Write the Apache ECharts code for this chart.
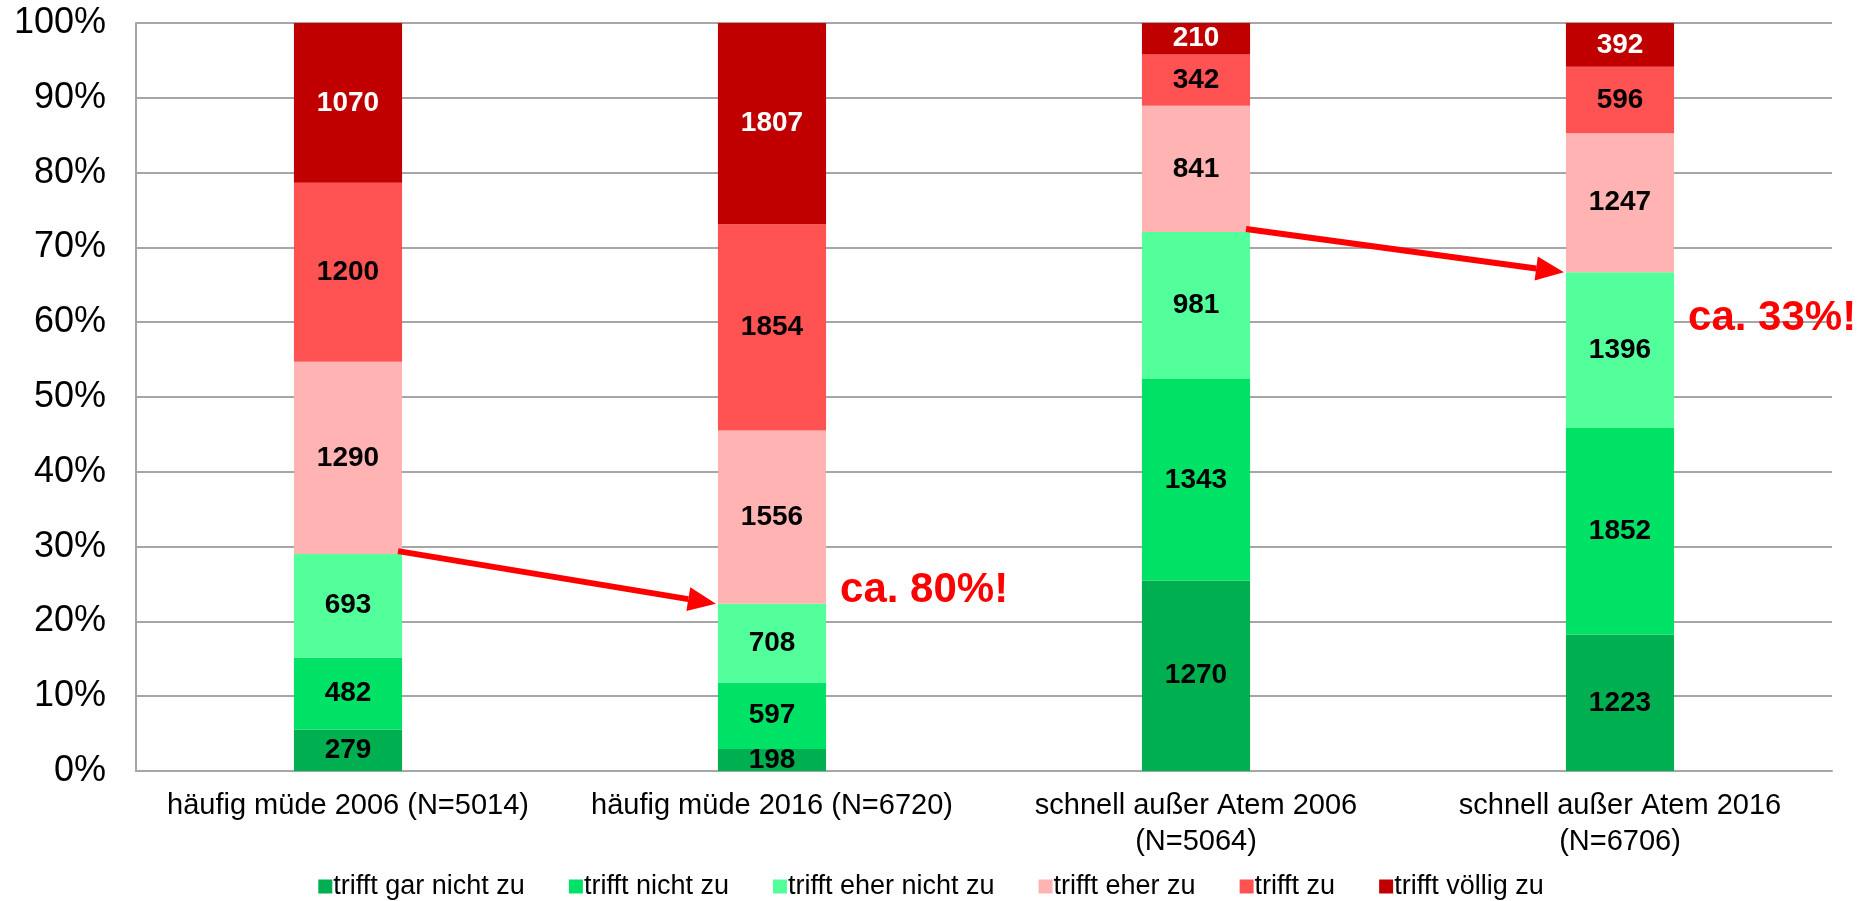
<!DOCTYPE html>
<html>
<head>
<meta charset="utf-8">
<script src="https://cdn.jsdelivr.net/npm/echarts@6/dist/echarts.min.js"></script>
<style>
    html, body { margin: 0; padding: 0; background: #fff; }
    #main { width: 1862px; height: 901px; }
</style>
</head>
<body>
<div id="main"></div>
<script>
// Kategorien und Antwortzahlen (je Stufe, je Balken)
const categories = [
    'häufig müde 2006 (N=5014)',
    'häufig müde 2016 (N=6720)',
    'schnell außer Atem 2006\n(N=5064)',
    'schnell außer Atem 2016\n(N=6706)'
]
const seriesNames = [
    'trifft gar nicht zu',
    'trifft nicht zu',
    'trifft eher nicht zu',
    'trifft eher zu',
    'trifft zu',
    'trifft völlig zu'
]
const garNicht = [279, 198, 1270, 1223]
const nicht = [482, 597, 1343, 1852]
const eherNicht = [693, 708, 981, 1396]
const eher = [1290, 1556, 841, 1247]
const zu = [1200, 1854, 342, 596]
const voellig = [1070, 1807, 210, 392]
const yTicks = [0, 10, 20, 30, 40, 50, 60, 70, 80, 90, 100]

// Hinweise rechts neben den Pfeilen (Kategorie, Höhe in %)
const notes = [
    { idx: 1, y: 24.1, text: 'ca. 80%!' },
    { idx: 3, y: 60.5, text: 'ca. 33%!' }
]

const colors = ['#00b050', '#00e266', '#52ff9a', '#ffb3b3', '#ff5252', '#c00000']
const counts = [garNicht, nicht, eherNicht, eher, zu, voellig]

// Summe je Balken -> 100%-Stapel
const totals = categories.map((c, i) => counts.reduce((s, arr) => s + arr[i], 0))

const mainFont = "'Liberation Sans', Arial, sans-serif"

const series = counts.map((arr, k) => ({
    name: seriesNames[k],
    type: 'bar',
    stack: 'total',
    barWidth: '25.5%',
    itemStyle: { color: colors[k] },
    label: {
        show: true,
        position: 'inside',
        color: k === 5 ? '#fff' : '#000',
        fontFamily: mainFont,
        fontWeight: 'bold',
        fontSize: 28,
        formatter: p => arr[p.dataIndex]
    },
    emphasis: { disabled: true },
    data: arr.map((v, i) => (v / totals[i]) * 100)
}))

const option = {
    animation: false,
    textStyle: { fontFamily: mainFont },
    grid: {
        left: 136,
        right: 30,
        top: 23,
        bottom: 130
    },
    legend: {
        bottom: -4,
        left: 'center',
        itemWidth: 14,
        itemHeight: 14,
        itemGap: 44,
        icon: 'rect',
        textStyle: {
            fontFamily: mainFont,
            fontSize: 27,
            color: '#000',
            padding: [0, 0, 0, -4]
        },
        data: seriesNames
    },
    xAxis: {
        type: 'category',
        data: categories,
        axisTick: { show: false },
        axisLine: { lineStyle: { color: '#a6a6a6', width: 2 } },
        axisLabel: {
            interval: 0,
            margin: 17,
            fontSize: 29,
            lineHeight: 36,
            color: '#000',
            fontFamily: mainFont
        }
    },
    yAxis: {
        type: 'value',
        min: 0,
        max: 100,
        interval: 10,
        axisLine: { show: true, lineStyle: { color: '#a6a6a6', width: 2 } },
        axisTick: { show: false },
        splitLine: { lineStyle: { color: '#a6a6a6', width: 2 } },
        axisLabel: {
            margin: 30,
            fontSize: 36,
            color: '#000',
            fontFamily: mainFont,
            formatter: v => (yTicks.indexOf(v) >= 0 ? v + '%' : '')
        }
    },
    series: series
}

const chart = echarts.init(document.getElementById('main'))
chart.setOption(option)

// Pfeile: oberes Ende der grünen Stufen, Rand des Balkens -> Rand des nächsten Balkens
function greenTop(i) {
    return ((garNicht[i] + nicht[i] + eherNicht[i]) / totals[i]) * 100
}
const halfBar = (chart.convertToPixel({ xAxisIndex: 0 }, 1) - chart.convertToPixel({ xAxisIndex: 0 }, 0)) * 0.255 / 2

function arrow(fromIdx, toIdx) {
    const p1 = chart.convertToPixel({ gridIndex: 0 }, [fromIdx, greenTop(fromIdx)])
    const p2 = chart.convertToPixel({ gridIndex: 0 }, [toIdx, greenTop(toIdx)])
    const x1 = p1[0] + halfBar - 4, y1 = p1[1] - 3
    const x2 = p2[0] - halfBar - 2, y2 = p2[1]
    const ang = Math.atan2(y2 - y1, x2 - x1)
    const len = 28, w = 12
    const bx = x2 - len * Math.cos(ang), by = y2 - len * Math.sin(ang)
    return [
        {
            type: 'line',
            shape: { x1: x1, y1: y1, x2: bx, y2: by },
            style: { stroke: '#ff0000', lineWidth: 6 },
            z: 100
        },
        {
            type: 'polygon',
            shape: {
                points: [
                    [x2, y2],
                    [bx + w * Math.sin(ang), by - w * Math.cos(ang)],
                    [bx - w * Math.sin(ang), by + w * Math.cos(ang)]
                ]
            },
            style: { fill: '#ff0000' },
            z: 100
        }
    ]
}

function note(n) {
    const p = chart.convertToPixel({ gridIndex: 0 }, [n.idx, n.y])
    return {
        type: 'text',
        x: p[0] + halfBar + 14,
        y: p[1],
        style: {
            text: n.text,
            fill: '#ff0000',
            font: "bold 42px 'Liberation Sans', Arial, sans-serif",
            verticalAlign: 'middle'
        },
        z: 100
    }
}

chart.setOption({
    graphic: [].concat(arrow(0, 1), arrow(2, 3), notes.map(note))
})

window.addEventListener('resize', () => chart.resize())
</script>
</body>
</html>
